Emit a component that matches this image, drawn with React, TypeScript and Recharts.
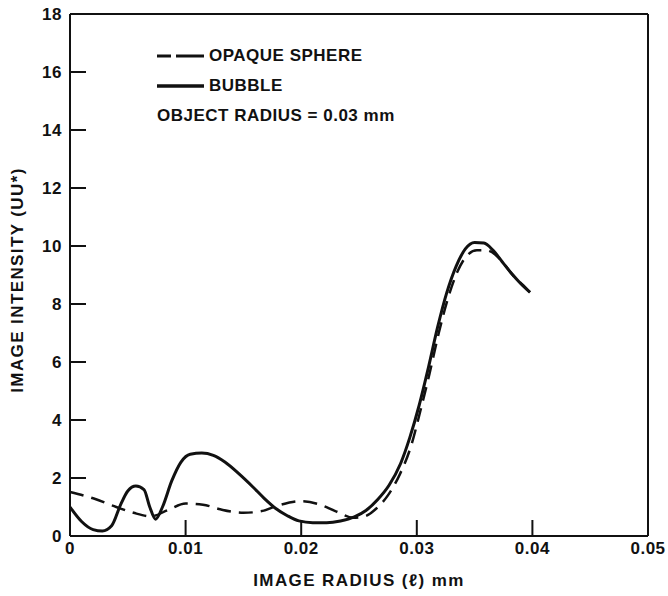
import React from "react";
import {
  LineChart,
  Line,
  XAxis,
  YAxis,
  ReferenceLine,
  Legend,
  Label,
} from "recharts";

// image radius (mm) / intensity readings for the bubble
const bubbleX = [
  0, 0.001, 0.002, 0.0028, 0.0036, 0.0044, 0.005, 0.0057, 0.0064, 0.0069,
  0.0074, 0.008, 0.0088, 0.0096, 0.0104, 0.0114, 0.0124, 0.0134, 0.0146,
  0.0158, 0.0168, 0.0178, 0.0188, 0.0198, 0.021, 0.0222, 0.0234, 0.0246,
  0.0256, 0.0266, 0.0276, 0.0286, 0.0294, 0.0302, 0.031, 0.0318, 0.0326,
  0.0334, 0.0342, 0.035, 0.0358, 0.0366, 0.0374, 0.0382, 0.039, 0.0398,
];
const bubbleY = [
  1.0, 0.5, 0.22, 0.17, 0.35, 1.1, 1.55, 1.72, 1.6, 1.0, 0.58, 1.0, 1.9,
  2.55, 2.82, 2.86, 2.78, 2.55, 2.15, 1.7, 1.3, 0.95, 0.7, 0.52, 0.46, 0.46,
  0.52, 0.66, 0.88, 1.25, 1.75, 2.5, 3.4, 4.5, 5.8, 7.2, 8.4, 9.3, 9.9,
  10.12, 10.1, 9.85, 9.45, 9.05, 8.7, 8.4,
];

// opaque sphere readings
const sphereX = [
  0, 0.002, 0.004, 0.0055, 0.007, 0.0085, 0.01, 0.0115, 0.013, 0.015,
  0.0165, 0.018, 0.02, 0.0215, 0.023, 0.0245, 0.0255, 0.0265, 0.0275,
  0.0285, 0.0295, 0.0303, 0.0311, 0.0319, 0.0327, 0.0335, 0.0343, 0.0352,
  0.036, 0.0368, 0.0376, 0.0384, 0.0392, 0.0398,
];
const sphereY = [
  1.52, 1.3, 1.0, 0.8, 0.68, 0.9, 1.12, 1.08, 0.92, 0.8, 0.85, 1.05, 1.2,
  1.1, 0.85, 0.63, 0.68, 0.95, 1.4, 2.1, 3.1, 4.3, 5.6, 7.0, 8.2, 9.1, 9.65,
  9.85, 9.85, 9.7, 9.35, 8.95, 8.65, 8.4,
];

const xTicks = [0, 0.01, 0.02, 0.03, 0.04, 0.05];
const yTicks = [0, 2, 4, 6, 8, 10, 12, 14, 16, 18];

const bubbleData = bubbleX.map((x, i) => ({ r: x, v: bubbleY[i] }));
const sphereData = sphereX.map((x, i) => ({ r: x, v: sphereY[i] }));

const FONT = "'Liberation Sans', Arial, sans-serif";
const tickStyle = {
  fill: "#111",
  fontSize: 17,
  fontWeight: "bold",
  fontFamily: FONT,
  letterSpacing: 0.5,
};
const titleStyle = {
  fontFamily: FONT,
  fontWeight: "bold",
  fontSize: 17,
  fill: "#111",
  letterSpacing: 1.4,
};

const renderLegend = () => (
  <div
    style={{
      fontFamily: FONT,
      fontWeight: "bold",
      fontSize: 17,
      letterSpacing: 0.5,
      color: "#111",
      whiteSpace: "nowrap",
    }}
  >
    <div style={{ display: "flex", alignItems: "center", height: 30 }}>
      <svg width={50} height={10}>
        <line x1={0} y1={5} x2={47} y2={5} stroke="#111" strokeWidth={3} strokeDasharray="14 5 28" />
      </svg>
      <span style={{ marginLeft: 2 }}>OPAQUE SPHERE</span>
    </div>
    <div style={{ display: "flex", alignItems: "center", height: 30 }}>
      <svg width={50} height={10}>
        <line x1={0} y1={5} x2={47} y2={5} stroke="#111" strokeWidth={3.5} />
      </svg>
      <span style={{ marginLeft: 2 }}>BUBBLE</span>
    </div>
    <div style={{ height: 30, lineHeight: "30px" }}>OBJECT RADIUS = 0.03 mm</div>
  </div>
);

export default function App() {
  return (
    <div
      style={{
        position: "absolute",
        left: 0,
        top: 0,
        width: 668,
        height: 596,
        background: "#fff",
      }}
    >
      <LineChart
        width={668}
        height={596}
        margin={{ top: 14, right: 20, left: 0, bottom: 0 }}
        style={{ overflow: "visible" }}
      >
        <XAxis
          dataKey="r"
          type="number"
          domain={[0, 0.05]}
          ticks={xTicks}
          interval={0}
          allowDuplicatedCategory={false}
          height={60}
          tickSize={-16}
          tickMargin={22}
          tickFormatter={(v: number) => String(v)}
          tick={tickStyle}
          axisLine={{ stroke: "#111", strokeWidth: 2 }}
          tickLine={{ stroke: "#111", strokeWidth: 2 }}
        >
          <Label value="IMAGE RADIUS (ℓ) mm" position="insideBottom" offset={10} style={titleStyle} />
        </XAxis>
        <YAxis
          type="number"
          domain={[0, 18]}
          ticks={yTicks}
          interval={0}
          width={70}
          tickSize={-16}
          tickMargin={24}
          tick={tickStyle}
          axisLine={{ stroke: "#111", strokeWidth: 2 }}
          tickLine={{ stroke: "#111", strokeWidth: 2 }}
        >
          <Label
            content={() => (
              <text
                x={17}
                y={280}
                transform="rotate(-90 17 280)"
                textAnchor="middle"
                dominantBaseline="central"
                style={titleStyle}
              >
                IMAGE INTENSITY (UU*)
              </text>
            )}
          />
        </YAxis>
        <ReferenceLine y={18} stroke="#111" strokeWidth={2} />
        <ReferenceLine x={0.05} stroke="#111" strokeWidth={2} />
        <Legend
          layout="horizontal"
          verticalAlign="middle"
          align="center"
          content={renderLegend}
          wrapperStyle={{ left: 157, top: 41, width: 340, height: 90 }}
        />
        <Line
          data={sphereData}
          dataKey="v"
          name="OPAQUE SPHERE"
          type="monotone"
          stroke="#111"
          strokeWidth={2.5}
          strokeDasharray="14 8"
          dot={false}
          isAnimationActive={false}
        />
        <Line
          data={bubbleData}
          dataKey="v"
          name="BUBBLE"
          type="monotone"
          stroke="#111"
          strokeWidth={3}
          dot={false}
          isAnimationActive={false}
        />
      </LineChart>
    </div>
  );
}
